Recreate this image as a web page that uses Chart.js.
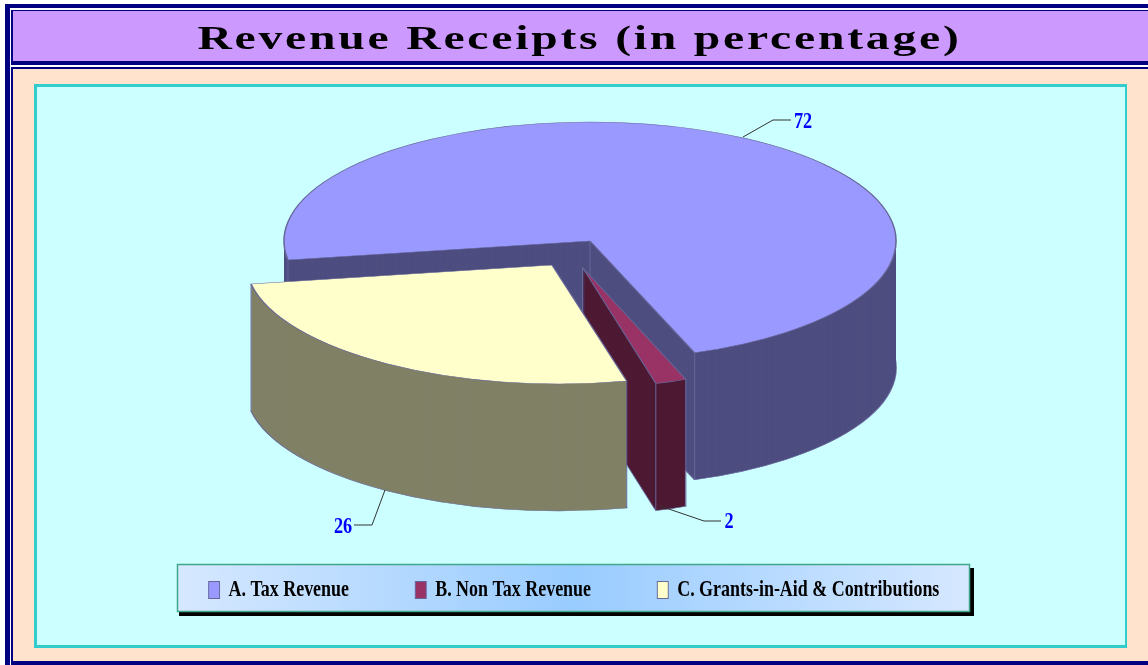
<!DOCTYPE html>
<html>
<head>
<meta charset="utf-8">
<style>html,body{margin:0;padding:0;background:#fff;overflow:hidden}canvas{display:block}</style>
<script src="https://cdn.jsdelivr.net/npm/chart.js@4"></script>
</head>
<body>
<canvas id="c" width="1148" height="665"></canvas>
<script>
const titleText = 'Revenue Receipts (in percentage)';
const categories = ['A. Tax Revenue', 'B. Non Tax Revenue', 'C. Grants-in-Aid & Contributions'];
const values = [72, 2, 26];
const topColors = ['#9999ff', '#993366', '#ffffcc'];
const sideColors = ['#4d4d80', '#4d1933', '#808066'];

// 3D projection of the pie (presentation only)
const view = { cx: 590, cy: 241, rx: 306, ry: 119, depth: 127, edge: '#666699' };
const explode = [[0, 0], [-7.5, 26.5], [-38, 24]];
const warp = [[1, 0], [0.832, 0.1455], [1, 0.06]];
const apexEdge = [true, true, false];
const leaders = [
  { pts: [[743, 137], [773, 120], [791, 120]], tx: 803, ty: 122 },
  { pts: [[660, 506], [704, 521], [721, 521]], tx: 729, ty: 522 },
  { pts: [[385, 490], [372, 525], [354, 525]], tx: 343, ty: 527 }
];

function rect(ctx, color, x, y, w, h) { ctx.fillStyle = color; ctx.fillRect(x, y, w, h); }

const pie3d = {
  id: 'pie3d',
  afterInit(chart) {
    const ctx = chart.ctx;
    const tb = chart.titleBlock, tDraw = tb.draw.bind(tb);
    tb.draw = function () {
      ctx.save();
      ctx.letterSpacing = '2px';
      ctx.translate(579.5, 0); ctx.scale(1.4, 1); ctx.translate(-574, 0);
      tDraw();
      ctx.restore();
    };
    const lg = chart.legend, lDraw = lg.draw.bind(lg);
    lg.draw = function () {
      ctx.save();
      rect(ctx, '#000', 179, 568, 795, 48);
      const g = ctx.createLinearGradient(177, 0, 970, 0);
      g.addColorStop(0, '#d6e8ff'); g.addColorStop(0.5, '#99ccff'); g.addColorStop(1, '#d6e8ff');
      ctx.fillStyle = g; ctx.fillRect(177, 564, 793, 48);
      ctx.strokeStyle = '#40a888'; ctx.lineWidth = 1.5; ctx.strokeRect(177.5, 564.5, 792, 47);
      const hb = lg.legendHitBoxes[0];
      ctx.translate(574, 590 - (hb.top + hb.height / 2));
      ctx.scale(0.78, 1);
      ctx.translate(-574, 0);
      lDraw();
      ctx.restore();
    };
  },
  beforeDraw(chart) {
    const c = chart.ctx;
    rect(c, '#ffffff', 0, 0, 1148, 665);
    rect(c, '#000080', 5, 4, 1143, 661);
    rect(c, '#ffffff', 10, 8, 1138, 657);
    rect(c, '#000080', 11, 10, 1137, 55);
    rect(c, '#cc99ff', 13, 11, 1135, 50);
    rect(c, '#ffffff', 10, 65, 1138, 2);
    rect(c, '#000080', 11, 67, 1137, 598);
    rect(c, '#ffe3cc', 13, 69, 1135, 592);
    rect(c, '#33cccc', 34, 84, 1093, 564);
    rect(c, '#ccffff', 37, 87, 1088, 558);
  },
  beforeDatasetsDraw(chart) {
    const ctx = chart.ctx;
    const arcs = chart.getDatasetMeta(0).data;
    arcs.forEach((arc, idx) => {
      const R = arc.outerRadius;
      const sx = view.rx / R, sy = view.ry / R;
      const ox = view.cx + explode[idx][0], oy = view.cy + explode[idx][1];
      const [wa, wk] = warp[idx];
      const opts = arc.options;
      const place = (dy) => {
        ctx.translate(ox, oy + dy);
        ctx.transform(wa, 0, wk, 1, 0, 0);
        ctx.scale(sx, sy);
        ctx.translate(-arc.x, -arc.y);
      };
      // bottom outline
      arc.options = Object.assign({}, opts, { backgroundColor: sideColors[idx] });
      ctx.save(); place(view.depth); arc.draw(ctx); ctx.restore();
      // walls, by stacking the library's arc
      arc.options = Object.assign({}, opts, { backgroundColor: sideColors[idx], borderWidth: 0 });
      for (let d = view.depth - 1; d > 0; d--) {
        ctx.save(); place(d); arc.draw(ctx); ctx.restore();
      }
      arc.options = opts;
      // vertical edges
      ctx.save();
      ctx.strokeStyle = view.edge; ctx.lineWidth = 1;
      const edge = (x, y) => {
        ctx.beginPath(); ctx.moveTo(x, y); ctx.lineTo(x, y + view.depth); ctx.stroke();
      };
      if (apexEdge[idx]) edge(ox, oy);
      [arc.startAngle, arc.endAngle].forEach(a => {
        const ux = Math.cos(a) * view.rx, uy = Math.sin(a) * view.ry;
        edge(ox + wa * ux + wk * uy, oy + uy);
      });
      ctx.restore();
      // top face
      ctx.save(); place(0); arc.draw(ctx); ctx.restore();
    });
    // value labels with leader lines
    values.forEach((v, i) => {
      const l = leaders[i];
      ctx.save();
      ctx.strokeStyle = '#333333'; ctx.lineWidth = 1;
      ctx.beginPath();
      l.pts.forEach((p, k) => k ? ctx.lineTo(p[0], p[1]) : ctx.moveTo(p[0], p[1]));
      ctx.stroke();
      ctx.fillStyle = '#0000ff';
      ctx.font = 'bold 24px "Liberation Serif"';
      ctx.textAlign = 'center'; ctx.textBaseline = 'middle';
      ctx.translate(l.tx, l.ty); ctx.scale(0.76, 1);
      ctx.fillText(String(v), 0, 0);
      ctx.restore();
    });
    return false;
  }
};

new Chart(document.getElementById('c'), {
  type: 'pie',
  data: {
    labels: categories,
    datasets: [{
      data: values,
      backgroundColor: topColors,
      borderColor: view.edge,
      borderWidth: 1.2
    }]
  },
  options: {
    responsive: false,
    animation: false,
    rotation: 260.8,
    layout: { padding: 0 },
    plugins: {
      tooltip: { enabled: false },
      title: {
        display: true,
        text: titleText,
        color: '#000000',
        font: { family: '"Liberation Serif"', size: 34, weight: 'bold', lineHeight: 1.2 },
        padding: { top: 20, bottom: 4 }
      },
      legend: {
        position: 'bottom',
        labels: {
          boxWidth: 14,
          boxHeight: 17,
          padding: 85,
          color: '#000000',
          font: { family: '"Liberation Serif"', size: 23, weight: 'bold' }
        }
      }
    }
  },
  plugins: [pie3d]
});
</script>
</body>
</html>
